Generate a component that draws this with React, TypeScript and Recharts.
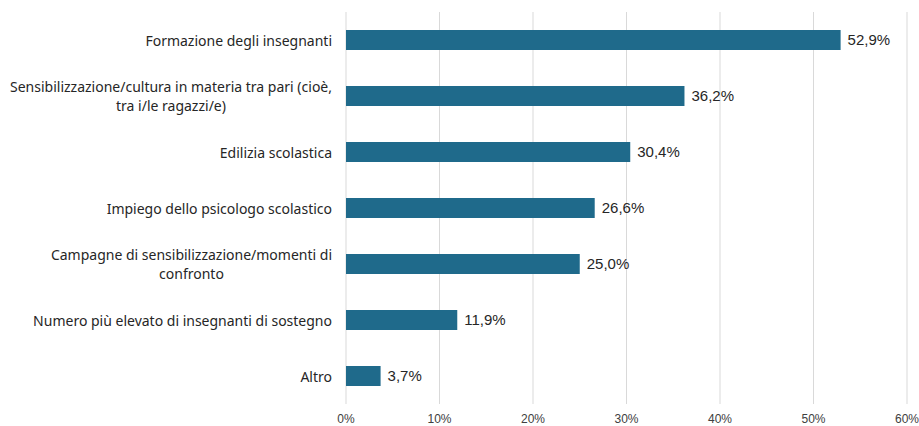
import React, { useLayoutEffect, useRef, useState } from "react"
import {
  BarChart,
  Bar,
  XAxis,
  YAxis,
  CartesianGrid,
  LabelList,
} from "recharts"

// Category labels; "\n" marks where a long label wraps.
const categories = [
  "Formazione degli insegnanti",
  "Sensibilizzazione/cultura in materia tra pari (cioè,\ntra i/le ragazzi/e)",
  "Edilizia scolastica",
  "Impiego dello psicologo scolastico",
  "Campagne di sensibilizzazione/momenti di\nconfronto",
  "Numero più elevato di insegnanti di sostegno",
  "Altro",
]

const shares = [52.9, 36.2, 30.4, 26.6, 25.0, 11.9, 3.7]

const xTicks = [0, 10, 20, 30, 40, 50, 60]

const data = categories.map((name, i) => ({ name, value: shares[i] }))

const BAR_COLOR = "#1f6a8b"
const TEXT_COLOR = "#262626"
const FONT = "'Liberation Sans', Arial, sans-serif"
const LABEL_FONT = "'Noto Sans', 'Liberation Sans', sans-serif"

// Right-aligned label block; wrapped lines are centred under the first one.
function CategoryTick(props: any) {
  const { x, y, payload } = props
  const lines: string[] = String(payload.value).split("\n")
  const lineHeight = 19
  const startY = y - ((lines.length - 1) * lineHeight) / 2
  const firstRef = useRef<SVGTextElement>(null)
  const [firstWidth, setFirstWidth] = useState(0)

  useLayoutEffect(() => {
    if (firstRef.current) setFirstWidth(firstRef.current.getComputedTextLength())
  }, [payload.value])

  const textProps = {
    fill: TEXT_COLOR,
    fontSize: 14,
    fontFamily: LABEL_FONT,
    dominantBaseline: "central" as const,
  }

  return (
    <g>
      <text ref={firstRef} x={x} y={startY} textAnchor="end" {...textProps}>
        {lines[0]}
      </text>
      {lines.slice(1).map((line, i) => (
        <text
          key={i}
          x={x - firstWidth / 2}
          y={startY + (i + 1) * lineHeight}
          textAnchor="middle"
          {...textProps}
        >
          {line}
        </text>
      ))}
    </g>
  )
}

const pct = (v: any) => `${Number(v).toFixed(1).replace(".", ",")}%`

export default function App() {
  return (
    <div style={{ position: "absolute", left: 0, top: 0, background: "#fff" }}>
      <BarChart
        width={919}
        height={426}
        data={data}
        layout="vertical"
        margin={{ top: 12, right: 12, left: 0, bottom: 0 }}
        barSize={20}
      >
        <CartesianGrid horizontal={false} stroke="#d9d9d9" />
        <XAxis
          type="number"
          domain={[0, 60]}
          ticks={xTicks}
          tickFormatter={(v) => `${v}%`}
          axisLine={false}
          tickLine={false}
          tickSize={0}
          tickMargin={10}
          height={22}
          tick={{ fontSize: 12, fill: "#404040", fontFamily: FONT }}
          interval={0}
        />
        <YAxis
          type="category"
          dataKey="name"
          width={346}
          axisLine={false}
          tickLine={false}
          tickSize={0}
          tickMargin={14}
          interval={0}
          tick={<CategoryTick />}
        />
        <Bar dataKey="value" fill={BAR_COLOR} isAnimationActive={false}>
          <LabelList
            dataKey="value"
            position="right"
            offset={7}
            formatter={pct}
            fill={TEXT_COLOR}
            fontSize={15}
            fontFamily={FONT}
          />
        </Bar>
      </BarChart>
    </div>
  )
}
